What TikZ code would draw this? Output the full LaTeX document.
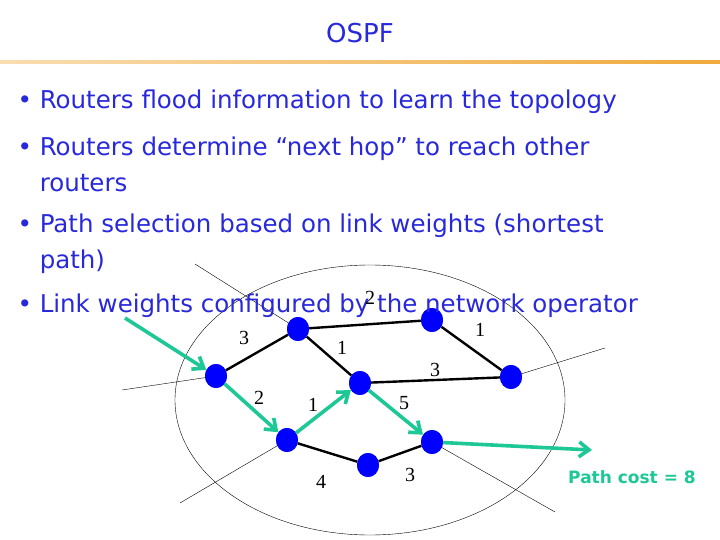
\documentclass[tikz,border=0pt]{standalone}
\usepackage{fontspec}
\setmainfont{DejaVu Sans}
\newfontfamily\wfont{Liberation Serif}
\usetikzlibrary{arrows.meta,shapes.geometric}
\definecolor{tblue}{RGB}{40,40,220}
\definecolor{tgreen}{RGB}{30,200,150}
\definecolor{orng}{RGB}{240,170,60}
\begin{document}
\begin{tikzpicture}[x=1pt,y=-1pt,
  rt/.style={ellipse,fill=blue,inner sep=0pt,minimum width=22,minimum height=24},
  lk/.style={line width=2.4pt,black},
  gr/.style={line width=3.6pt,tgreen,-{Straight Barb[length=10pt,width=15pt]}},
  thin/.style={line width=0.4pt},
  wl/.style={font=\fontsize{20}{20}\selectfont\wfont},
  bt/.style={anchor=west,align=left,text=tblue,font=\fontsize{24.5}{36}\selectfont}]
\useasboundingbox (0,0) rectangle (720,540);
\fill[white] (0,0) rectangle (720,540);
\node (title) at (360,33) {\fontsize{26}{28}\selectfont\color{tblue}OSPF};
\shade[left color=orng!40, right color=orng] (0,61) rectangle (720,64);
\node[bt] (b1) at (14,102) {•\ Routers flood information to learn the topology};
\node[bt] (b2) at (14,164) {•\ Routers determine “next hop” to reach other\\\phantom{•\ }routers};
\node[bt] (b3) at (14,244) {•\ Path selection based on link weights (shortest\\\phantom{•\ }path)};
\draw[thin] (370,400) ellipse (195 and 135);
\node[rt] (A) at (216,376) {};
\node[rt] (B) at (298,329) {};
\node[rt] (C) at (432,320) {};
\node[rt] (D) at (511,377) {};
\node[rt] (E) at (360,383) {};
\node[rt] (F) at (287,440) {};
\node[rt] (G) at (368,465) {};
\node[rt] (H) at (432,442) {};
\coordinate (t1) at (195,264);
\coordinate (t2) at (122,390);
\coordinate (t3) at (605,348);
\coordinate (t4) at (180,503);
\coordinate (t5) at (555,512);
\draw[thin] (t1) -- (B.center); \draw[thin] (t2) -- (A.center);
\draw[thin] (t3) -- (D.center); \draw[thin] (t4) -- (F.center);
\draw[thin] (t5) -- (H.center);
\draw[lk] (A) -- (B); \draw[lk] (B) -- (C); \draw[lk] (B) -- (E);
\draw[lk] (C) -- (D); \draw[lk] (E) -- (D); \draw[lk] (F) -- (G); \draw[lk] (G) -- (H);
\node[rt] at (A) {}; \node[rt] at (B) {}; \node[rt] at (C) {}; \node[rt] at (D) {};
\node[rt] at (E) {}; \node[rt] at (F) {}; \node[rt] at (G) {}; \node[rt] at (H) {};
\coordinate (in) at (125,318);
\coordinate (out) at (592,450);
\draw[gr] (in) -- (A);
\draw[gr] (A) -- (F);
\draw[gr] (F) -- (E);
\draw[gr] (E) -- (H);
\draw[gr] (H) -- (out);
\node[bt] (b4) at (14,306) {•\ Link weights configured by the network operator};
\node[wl] (w1) at (244,338) {3};
\node[wl] (w2) at (370,298) {2};
\node[wl] (w3) at (342,348) {1};
\node[wl] (w4) at (480,330) {1};
\node[wl] (w5) at (435,370) {3};
\node[wl] (w6) at (259,398) {2};
\node[wl] (w7) at (313,405) {1};
\node[wl] (w8) at (404,403) {5};
\node[wl] (w9) at (321,482) {4};
\node[wl] (w10) at (410,475) {3};
\node[text=tgreen,font=\fontsize{17}{18}\selectfont\bfseries] (pc) at (632,477) {Path cost = 8};
\end{tikzpicture}
\end{document}
